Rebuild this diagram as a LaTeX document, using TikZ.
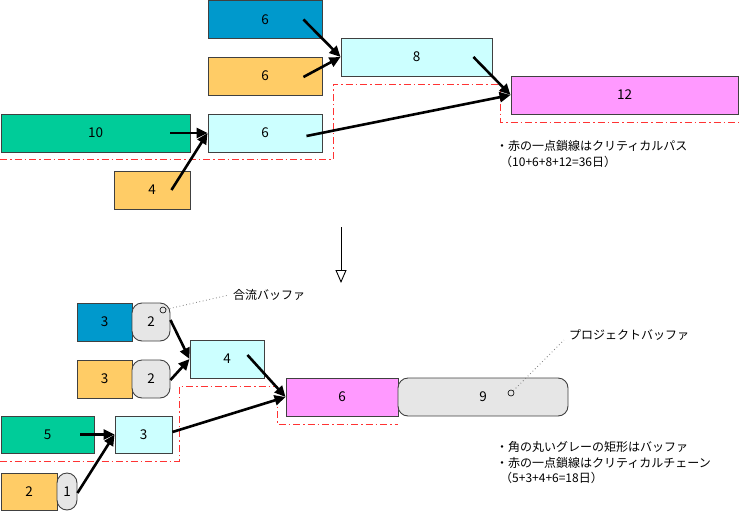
\documentclass[tikz,border=0pt]{standalone}
\usepackage{fontspec}
\setmainfont{Noto Sans CJK JP}
\usepackage{tikz}
\usetikzlibrary{arrows.meta, shapes.geometric}

\definecolor{taskblue}{HTML}{0099CC}
\definecolor{taskorange}{HTML}{FFCC66}
\definecolor{taskgreen}{HTML}{00CC99}
\definecolor{taskcyan}{HTML}{CCFFFF}
\definecolor{taskpink}{HTML}{FF99FF}
\definecolor{bufgray}{HTML}{E6E6E6}
\definecolor{edgegray}{HTML}{404040}
\definecolor{chainred}{HTML}{FF3333}

\begin{document}
\begin{tikzpicture}[
    x=1pt, y=-1pt,
    % Styles
    taskbox/.style={
        rectangle,
        draw=edgegray,
        line width=0.9pt,
        minimum height=38pt,
        inner sep=0pt,
        font=\fontsize{13.5}{15}\selectfont
    },
    bufbox/.style={
        taskbox,
        fill=bufgray,
        rounded corners=10pt
    },
    arrow/.style={
        -{Triangle[length=11pt,width=10pt]},
        line width=2.6pt
    },
    critline/.style={
        draw=chainred,
        line width=0.9pt,
        dash pattern=on 7pt off 3pt on 1.5pt off 3pt
    },
    note/.style={
        anchor=west,
        align=left,
        inner sep=0pt,
        font=\fontsize{12}{15.5}\selectfont
    },
    pointer/.style={
        draw=gray,
        line width=0.8pt,
        dash pattern=on 0.8pt off 2.6pt
    },
    ringmark/.style={
        circle,
        draw=black,
        line width=0.6pt,
        minimum size=6pt,
        inner sep=0pt
    }
]
\useasboundingbox (0,0) rectangle (739,512);

% Critical path (top)
\draw[critline] (0,159) -| (333,84) -| (500,122) -- (739,122);

% Top network
\node[taskbox, fill=taskblue, minimum width=114pt] (blueA) at (265,19.5) {6};
\node[taskbox, fill=taskorange, minimum width=114pt] (orangeA) at (265,76) {6};
\node[taskbox, fill=taskgreen, minimum width=189pt] (greenA) at (95.5,133) {10};
\node[taskbox, fill=taskcyan, minimum width=114pt] (cyanA) at (265,133) {6};
\node[taskbox, fill=taskorange, minimum width=76pt] (orangeB) at (152,190) {4};
\node[taskbox, fill=taskcyan, minimum width=151pt] (cyanB) at (416.5,57) {8};
\node[taskbox, fill=taskpink, minimum width=227pt] (pinkA) at (624.5,95) {12};

\draw[arrow] ([xshift=-19pt]blueA.east) -- (cyanB.west);
\draw[arrow] ([xshift=-19pt,yshift=-1pt]orangeA.east) -- (cyanB.west);
\draw[arrow] ([xshift=-20pt]greenA.east) -- (cyanA.west);
\draw[arrow] ([xshift=-19pt]orangeB.east) -- (cyanA.west);
\draw[arrow] ([xshift=-16pt,yshift=-3pt]cyanA.east) -- (pinkA.west);
\draw[arrow] ([xshift=-19pt]cyanB.east) -- (pinkA.west);

\node[note] (noteA) at (496,154) {・赤の一点鎖線はクリティカルパス\\\hspace*{4pt}（10+6+8+12=36日）};

% Transition arrow
\coordinate (downtop) at (341,227);
\coordinate (downbot) at (341,283);
\draw[-{Triangle[open,length=13pt,width=11pt]}, line width=0.9pt] (downtop) -- (downbot);

% Critical chain (bottom)
\draw[critline] (0,461) -| (179,386) -| (277,424) -- (398,424);

% Bottom network
\node[taskbox, fill=taskblue, minimum width=55pt] (blueC) at (104.5,322) {3};
\node[bufbox, minimum width=38pt] (bufA) at (151,322) {2};
\node[taskbox, fill=taskorange, minimum width=55pt] (orangeC) at (104.5,379) {3};
\node[bufbox, minimum width=38pt] (bufB) at (151,379) {2};
\node[taskbox, fill=taskcyan, minimum width=74pt] (cyanC) at (227,359) {4};
\node[taskbox, fill=taskpink, minimum width=112pt] (pinkC) at (342,397) {6};
\node[bufbox, minimum width=170pt] (bufP) at (483,397) {9};
\node[taskbox, fill=taskgreen, minimum width=93pt, minimum height=37pt] (greenC) at (47.5,434.5) {5};
\node[taskbox, fill=taskcyan, minimum width=57pt, minimum height=37pt] (cyanD) at (143.5,434.5) {3};
\node[taskbox, fill=taskorange, minimum width=56pt, minimum height=37pt] (orangeD) at (29,491.5) {2};
\node[bufbox, minimum width=20pt, minimum height=37pt] (bufC) at (67,491.5) {1};

\draw[arrow] ([yshift=2pt]bufA.east) -- (cyanC.west);
\draw[arrow] ([yshift=-1pt]bufB.east) -- (cyanC.west);
\draw[arrow] ([xshift=-14pt]greenC.east) -- (cyanD.west);
\draw[arrow] ([yshift=-1.5pt]bufC.east) -- (cyanD.west);
\draw[arrow] ([yshift=2.5pt]cyanD.east) -- (pinkC.west);
\draw[arrow] ([xshift=-17pt,yshift=4pt]cyanC.east) -- (pinkC.west);

% Buffer annotations
\node[ringmark] (mergemark) at (163,310) {};
\node[note] (mergelabel) at (233,295) {合流バッファ};
\draw[pointer] (mergemark) -- ([xshift=-4pt]mergelabel.west);

\node[ringmark] (projmark) at (511,393) {};
\node[note] (projlabel) at (569,335) {プロジェクトバッファ};
\draw[pointer] (projmark) -- ([xshift=-5pt,yshift=-5pt]projlabel.west);

\node[note] (noteC) at (496,463) {・角の丸いグレーの矩形はバッファ\\・赤の一点鎖線はクリティカルチェーン\\\hspace*{4pt}（5+3+4+6=18日）};

\end{tikzpicture}
\end{document}
